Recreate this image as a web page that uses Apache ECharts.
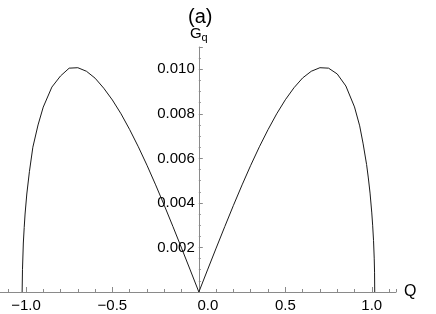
<!DOCTYPE html>
<html><head><meta charset="utf-8">
<script src="https://cdn.jsdelivr.net/npm/echarts@6/dist/echarts.min.js"></script>
<style>html,body{margin:0;padding:0;background:#fff}#c{width:436px;height:314px}</style>
</head><body><div id="c"></div>
<script>
// Values
const qValues = [-1.022,-1.02,-1.015,-1.01,-1.005,-0.995,-0.98,-0.96,-0.93,-0.90,-0.85,-0.80,-0.75,-0.70,-0.65,-0.60,-0.55,-0.50,-0.45,-0.40,-0.35,-0.30,-0.25,-0.20,-0.15,-0.10,-0.05,0,
  0.05,0.10,0.15,0.20,0.25,0.30,0.35,0.40,0.45,0.50,0.55,0.60,0.65,0.70,0.75,0.80,0.85,0.90,0.93,0.95,0.97,0.98,0.99,1.00,1.005,1.01,1.014,1.016,1.017];
const gValues = [0,0.0010,0.0022,0.0029,0.0035,0.0044,0.0054,0.0065,0.0075,0.0083,0.0092,0.0097,0.01005,0.01007,0.00991,0.00960,0.00915,0.00862,0.00800,0.00729,0.00652,0.00569,0.00481,0.00389,0.00294,0.00197,0.00099,0,
  0.00099,0.00197,0.00294,0.00389,0.00481,0.00569,0.00652,0.00729,0.00800,0.00863,0.00917,0.00961,0.00991,0.01007,0.01005,0.00979,0.00925,0.00831,0.00746,0.00665,0.00572,0.00512,0.00444,0.00355,0.00300,0.00232,0.00152,0.00089,0];
const xTickLabels = [-1, -0.5, 0, 0.5, 1];
const yTickLabels = [0.002, 0.004, 0.006, 0.008, 0.010];

const data = qValues.map((q, i) => [q, gValues[i]]);
const font = '"Liberation Sans", Arial, Helvetica, sans-serif';
const axisColor = '#8a8a8a';

const chart = echarts.init(document.getElementById('c'), null, {renderer: 'canvas'});
chart.setOption({
  animation: false,
  backgroundColor: '#fff',
  title: {text: '(a)', left: 183, top: 2, textStyle: {fontFamily: font, fontSize: 20, fontWeight: 'normal', color: '#000'}},
  grid: {left: -8.65, right: 40, top: 47, bottom: 22, containLabel: false, outerBoundsMode: 'none'},
  xAxis: [{
    type: 'value', min: -1.2, max: 1.14, interval: 0.1,
    name: 'Q', nameLocation: 'end', nameGap: 8,
    nameTextStyle: {fontFamily: font, fontSize: 16, color: '#000'},
    axisLine: {onZero: true, lineStyle: {color: axisColor, width: 1}},
    axisTick: {inside: true, length: 3, lineStyle: {color: axisColor}},
    splitLine: {show: false},
    axisLabel: {
      customValues: xTickLabels, margin: 6, fontFamily: font, fontSize: 15, color: '#000',
      formatter: v => Math.abs(v) < 1e-9 ? '{z|0.0}' : (v < 0 ? '\u2212' : '') + Math.abs(v).toFixed(1),
      rich: {z: {fontFamily: font, fontSize: 15, color: '#000', padding: [0, 0, 0, 18]}}
    }
  }, {
    type: 'value', min: -1.2, max: 1.14, position: 'bottom',
    axisLine: {show: false},
    axisTick: {inside: true, length: 5, customValues: xTickLabels, lineStyle: {color: axisColor}},
    axisLabel: {show: false}, splitLine: {show: false}
  }],
  yAxis: {
    type: 'value', min: 0, max: 0.011, interval: 0.002,
    position: 'left', offset: -207.45,
    name: '{g|G}{s|q}', nameLocation: 'end', nameGap: 4,
    nameTextStyle: {rich: {g: {fontFamily: font, fontSize: 15, color: '#000'}, s: {fontFamily: font, fontSize: 11, color: '#000', padding: [8, 0, 0, 0]}}},
    axisLine: {onZero: false, lineStyle: {color: axisColor, width: 1}},
    axisTick: {inside: true, length: 4, lineStyle: {color: axisColor}},
    minorTick: {show: true, splitNumber: 4, length: 2, lineStyle: {color: axisColor}},
    splitLine: {show: false}, minorSplitLine: {show: false},
    axisLabel: {
      customValues: yTickLabels, margin: 4, fontFamily: font, fontSize: 15, color: '#000',
      formatter: v => v.toFixed(3)
    }
  },
  series: [{
    type: 'line', data: data, showSymbol: false, symbol: 'none',
    smooth: false,
    lineStyle: {color: '#1a1a1a', width: 1}
  }]
});
</script></body></html>
